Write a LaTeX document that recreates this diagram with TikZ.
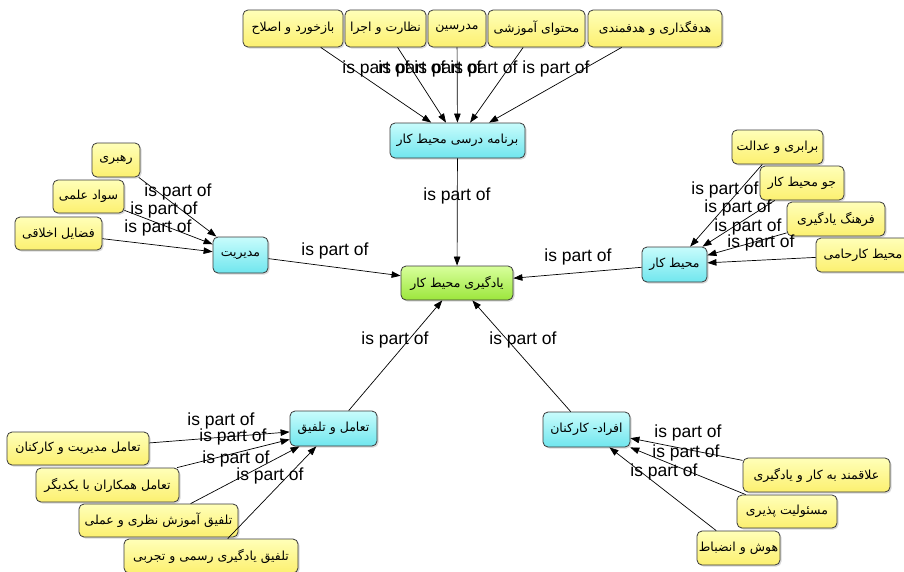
\documentclass[tikz,border=0pt]{standalone}
\usepackage{fontspec}
\setmainfont{Liberation Sans}
\newfontfamily\arabicfont[Script=Arabic]{DejaVu Sans}
\TeXXeTstate=1
\usetikzlibrary{arrows.meta,shadows}
\newcommand\faText[1]{{\arabicfont\fontsize{12.5}{14}\selectfont\beginR #1\endR}}

\definecolor{yelTop}{HTML}{FFFFB8}
\definecolor{yelBot}{HTML}{FCF070}
\definecolor{cyanTop}{HTML}{C8FCFC}
\definecolor{cyanBot}{HTML}{70E6EE}
\definecolor{grnTop}{HTML}{D8FF9C}
\definecolor{grnBot}{HTML}{9CE63C}
\definecolor{edgeGray}{HTML}{3A3A3A}

\tikzset{
  concept/.style={draw=edgeGray, line width=0.8pt, rounded corners=5pt,
    inner sep=0pt, align=center,
    drop shadow={shadow xshift=1.5pt, shadow yshift=-1.5pt, opacity=0.3}},
  leaf/.style={concept, top color=yelTop, bottom color=yelBot},
  mid/.style={concept, top color=cyanTop, bottom color=cyanBot},
  core/.style={concept, top color=grnTop, bottom color=grnBot},
  sz/.style 2 args={minimum width=#1pt, minimum height=#2pt},
  arr/.style={draw=black, line width=0.7pt, -{Triangle[length=9pt,width=6.5pt]}},
  rel/.style={font=\fontsize{17.5}{19}\selectfont, inner sep=0pt}
}

\begin{document}
\begin{tikzpicture}[x=1pt, y=-1pt]
\useasboundingbox (0,0) rectangle (904,571);
\fill[white] (0,0) rectangle (904,571);

% central concept and its five parts
\node[core, sz={112}{34}] (core) at (457,283) {\faText{یادگیری محیط کار}};
\node[mid, sz={135}{35}] (prog) at (457.5,140.5) {\faText{برنامه درسی محیط کار}};
\node[mid, sz={55}{36}] (mgmt) at (240.5,255) {\faText{مدیریت}};
\node[mid, sz={65}{35}] (work) at (674.5,264.5) {\faText{محیط کار}};
\node[mid, sz={87}{35}] (integ) at (333.5,428.5) {\faText{تعامل و تلفیق}};
\node[mid, sz={87}{35}] (staff) at (586.5,429.5) {\faText{افراد- کارکنان}};

% curriculum components
\node[leaf, sz={100}{37}] (fb) at (293,28.5) {\faText{بازخورد و اصلاح}};
\node[leaf, sz={81}{37}] (nz) at (385.5,28.5) {\faText{نظارت و اجرا}};
\node[leaf, sz={58}{37}] (md) at (457,28.5) {\faText{مدرسین}};
\node[leaf, sz={97}{37}] (mh) at (536.5,28.5) {\faText{محتوای آموزشی}};
\node[leaf, sz={134}{37}] (hd) at (655,28.5) {\faText{هدفگذاری و هدفمندی}};

% management components
\node[leaf, sz={48}{34}] (lead) at (116,160) {\faText{رهبری}};
\node[leaf, sz={71}{33}] (sci) at (88.5,196.5) {\faText{سواد علمی}};
\node[leaf, sz={87}{33}] (eth) at (58.5,233.5) {\faText{فضایل اخلاقی}};

% workplace components
\node[leaf, sz={91}{34}] (eq) at (777.5,147) {\faText{برابری و عدالت}};
\node[leaf, sz={84}{34}] (clim) at (802,183) {\faText{جو محیط کار}};
\node[leaf, sz={98}{34}] (cult) at (836,219) {\faText{فرهنگ یادگیری}};
\node[leaf, sz={94}{34}] (supp) at (863,255) {\faText{محیط کارحامی}};

% interaction components
\node[leaf, sz={142}{33}] (i1) at (78,448.5) {\faText{تعامل مدیریت و کارکنان}};
\node[leaf, sz={143}{34}] (i2) at (107.5,485) {\faText{تعامل همکاران با یکدیگر}};
\node[leaf, sz={159}{33}] (i3) at (158.5,520.5) {\faText{تلفیق آموزش نظری و عملی}};
\node[leaf, sz={174}{34}] (i4) at (211,556) {\faText{تلفیق یادگیری رسمی و تجربی}};

% staff components
\node[leaf, sz={147}{34}] (s1) at (816.5,475) {\faText{علاقمند به کار و یادگیری}};
\node[leaf, sz={100}{33}] (s2) at (787,511.5) {\faText{مسئولیت پذیری}};
\node[leaf, sz={83}{34}] (s3) at (738.5,548) {\faText{هوش و انضباط}};

% connectors
\draw[arr] (prog) -- (core);
\draw[arr] (mgmt) -- (core);
\draw[arr] (work) -- (core);
\draw[arr] (integ) -- (core);
\draw[arr] (staff) -- (core);

\foreach \n in {fb,nz,md,mh,hd} \draw[arr] (\n) -- (prog);
\foreach \n in {lead,sci,eth} \draw[arr] (\n) -- (mgmt);
\foreach \n in {eq,clim,cult,supp} \draw[arr] (\n) -- (work);
\foreach \n in {i1,i2,i3,i4} \draw[arr] (\n) -- (integ);
\foreach \n in {s1,s2,s3} \draw[arr] (\n) -- (staff);

% relation labels
\node[rel] (lprog) at (457,196) {is part of};
\node[rel] (lmgmt) at (335,251) {is part of};
\node[rel] (lwork) at (578,257) {is part of};
\node[rel] (linteg) at (395,340) {is part of};
\node[rel] (lstaff) at (523,340) {is part of};

\node[rel] (lfb) at (376,69) {is part of};
\node[rel] (lnz) at (412,69) {is part of};
\node[rel] (lmd) at (448,69) {is part of};
\node[rel] (lmh) at (484,69) {is part of};
\node[rel] (lhd) at (556,69) {is part of};

\node[rel] (llead) at (178,192) {is part of};
\node[rel] (lsci) at (164,210) {is part of};
\node[rel] (leth) at (158,228) {is part of};

\node[rel] (leq) at (725,190) {is part of};
\node[rel] (lclim) at (738,208) {is part of};
\node[rel] (lcult) at (748,227) {is part of};
\node[rel] (lsupp) at (761,243) {is part of};

\node[rel] (li1) at (221,421) {is part of};
\node[rel] (li2) at (233,437) {is part of};
\node[rel] (li3) at (236,459) {is part of};
\node[rel] (li4) at (270,476) {is part of};

\node[rel] (ls1) at (688,433) {is part of};
\node[rel] (ls2) at (686,453) {is part of};
\node[rel] (ls3) at (664,472) {is part of};
\end{tikzpicture}
\end{document}
